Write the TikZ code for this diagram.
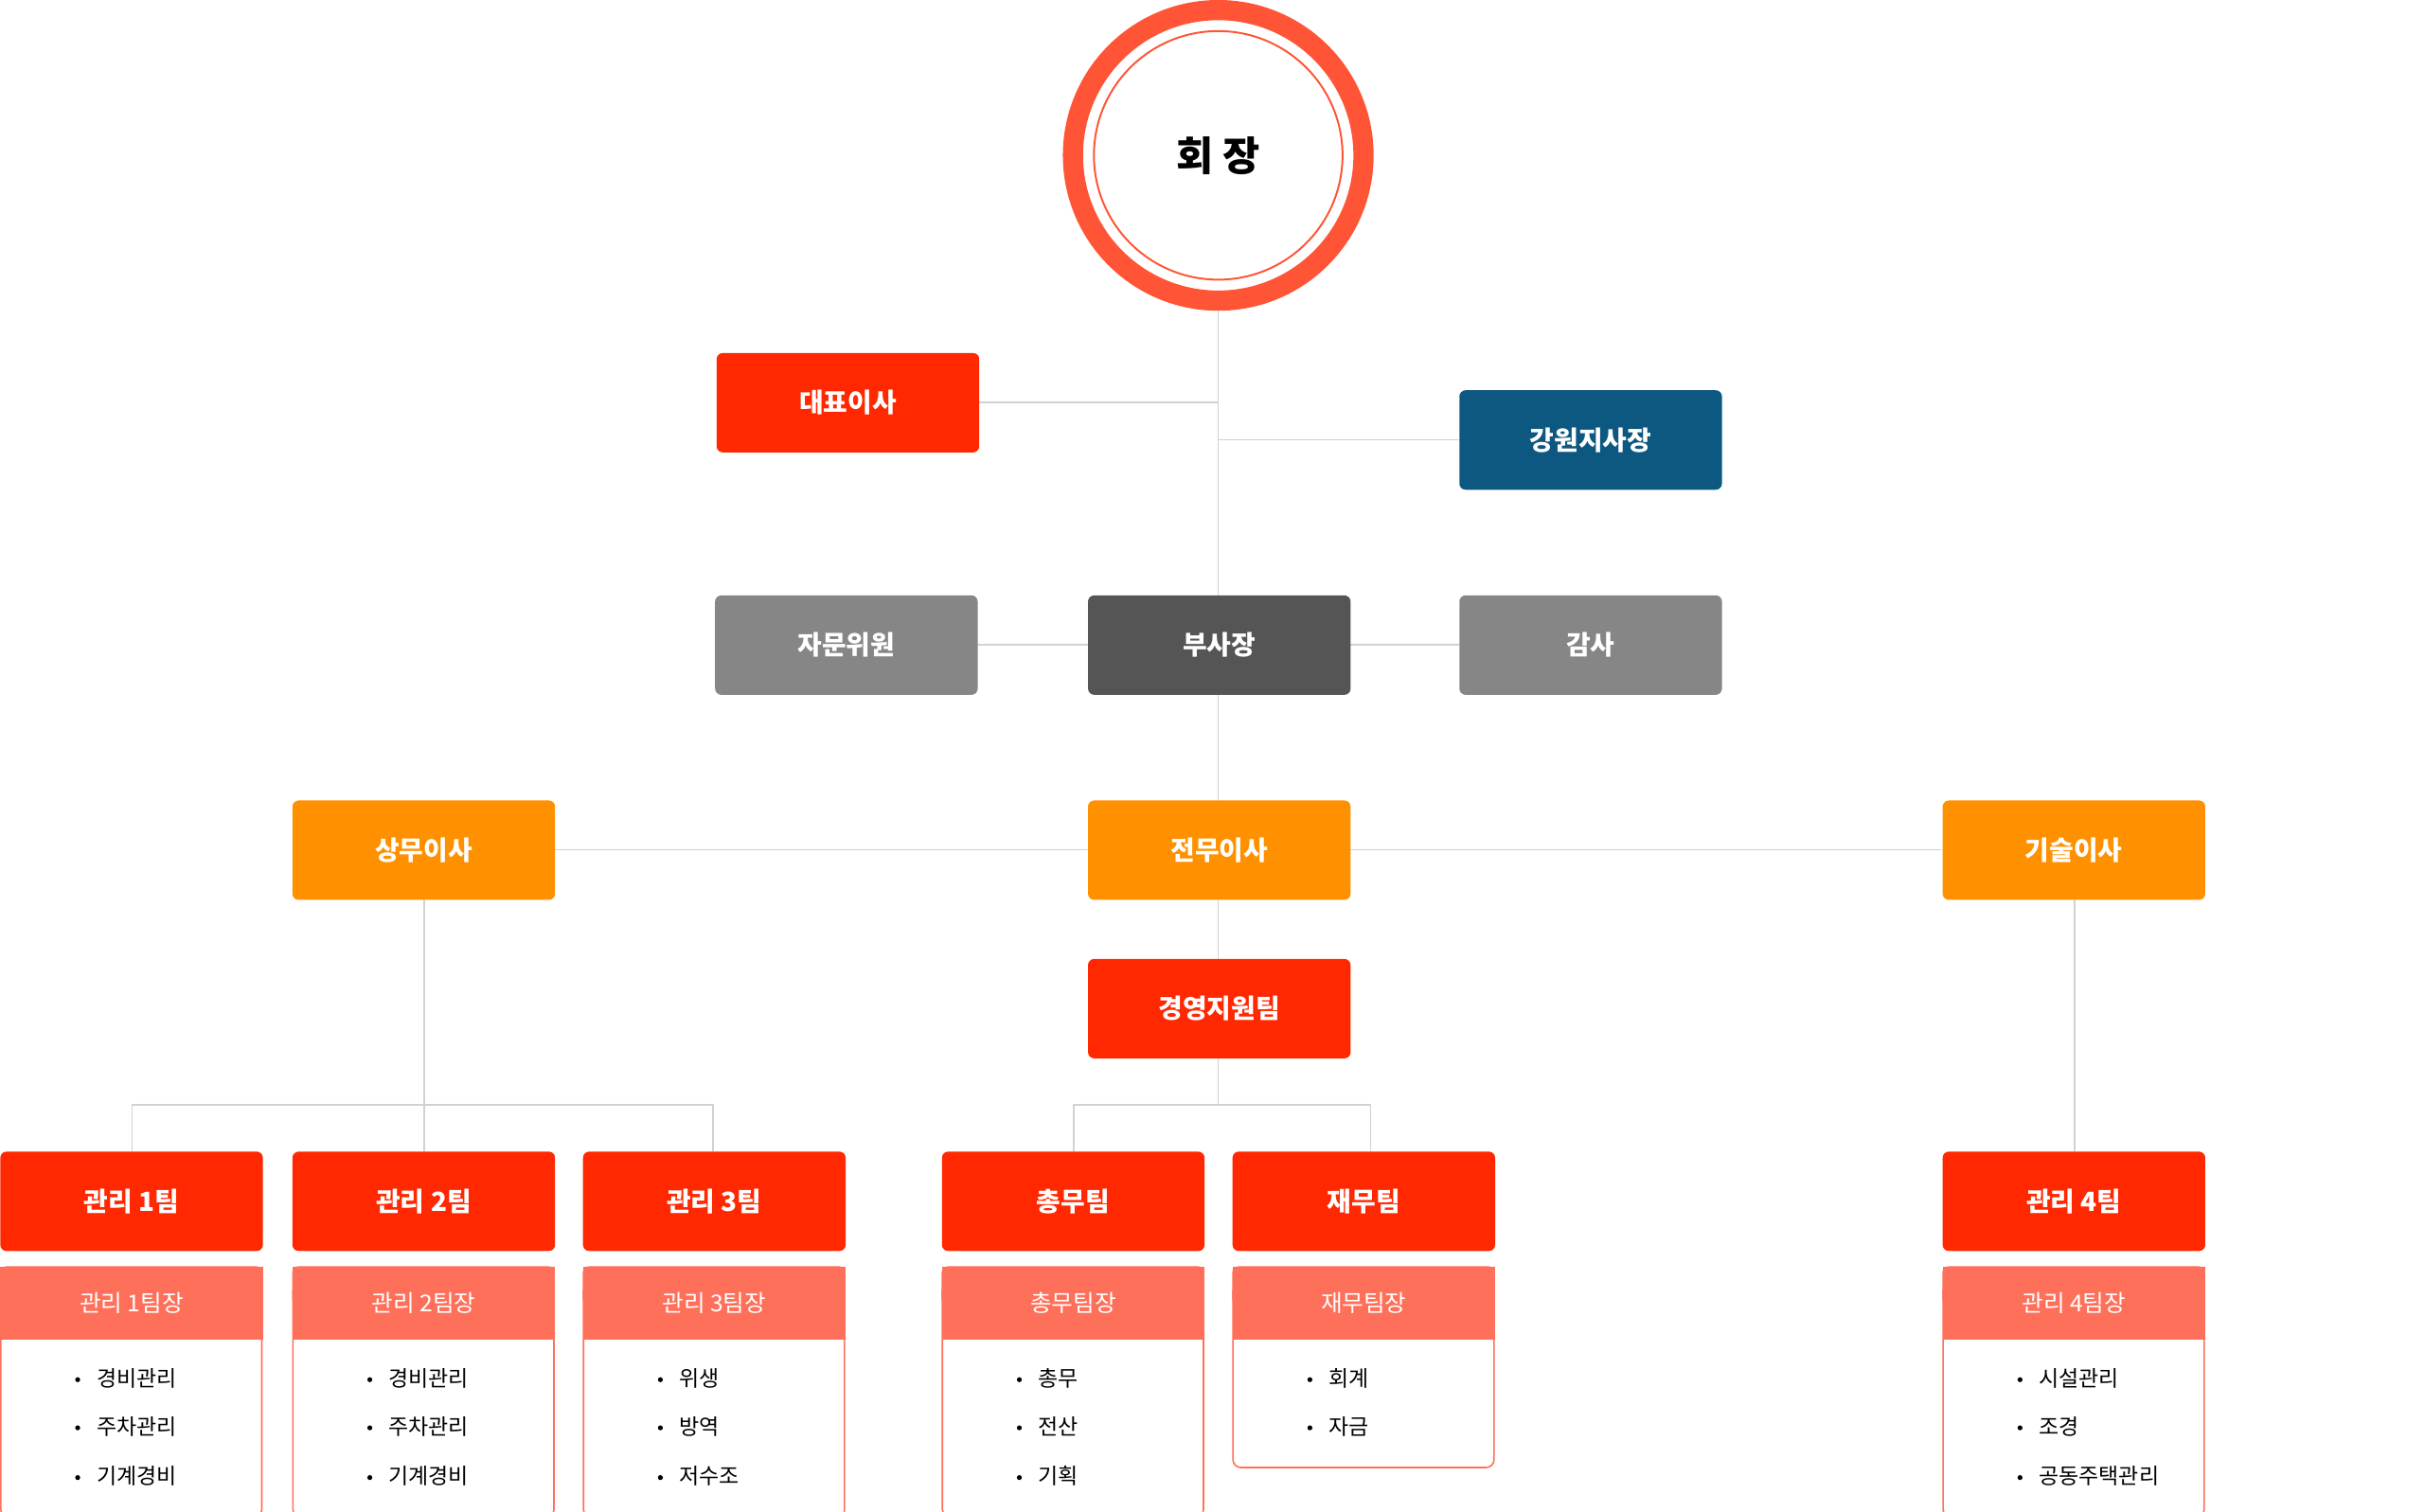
\documentclass[tikz,border=0pt]{standalone}
\usepackage{fontspec}
\setmainfont{Noto Sans CJK KR}
\newfontfamily\kb[FakeBold=0]{Noto Sans CJK KR Bold}
\definecolor{cred}{HTML}{FF2800}
\definecolor{cring}{HTML}{FF5536}
\definecolor{cblue}{HTML}{0D5880}
\definecolor{cgray}{HTML}{868686}
\definecolor{cdark}{HTML}{555555}
\definecolor{corange}{HTML}{FF9100}
\definecolor{csal}{HTML}{FF705A}
\definecolor{cline}{HTML}{D2D2D2}
\begin{document}
\begin{tikzpicture}[x=1pt,y=-1pt,
 box/.style={minimum width=169pt,minimum height=64pt,rounded corners=4pt,text=white,font=\bfseries\fontsize{17}{20}\selectfont,inner sep=0pt,anchor=north west},
 ln/.style={draw=cline,line width=1pt},
 hd/.style={fill=csal,minimum width=169pt,minimum height=47pt,anchor=north west,text=white,font=\fontsize{15}{18}\selectfont,inner sep=0pt},
 itm/.style={anchor=west,font=\fontsize{14}{17}\selectfont,inner sep=0pt}]
\useasboundingbox (0,0) rectangle (1560,973);
% lines
\draw[ln] (784,200) -- (784,617);
\draw[ln] (630,259) -- (784,259);
\draw[ln] (784,283) -- (939,283);
\draw[ln] (629,415) -- (939,415);
\draw[ln] (357,547) -- (1250,547);
\draw[ln] (784,681) -- (784,711);
\draw[ln] (691,741) -- (691,711) -- (882,711) -- (882,741);
\draw[ln] (273,579) -- (273,741);
\draw[ln] (85,741) -- (85,711) -- (459,711) -- (459,741);
\draw[ln] (1335,579) -- (1335,741);
% circle
\draw[cring,line width=13pt] (784,100) circle (93.5);
\draw[cring,line width=1.2pt] (784,100) circle (80);
\node[font=\bfseries\fontsize{26}{30}\selectfont] (ceo) at (784,100) {회 장};
% boxes
\node[box,fill=cred] (dp) at (461,227) {대표이사};
\node[box,fill=cblue] (gw) at (939,251) {강원지사장};
\node[box,fill=cgray] (ja) at (460,383) {자문위원};
\node[box,fill=cdark] (bs) at (700,383) {부사장};
\node[box,fill=cgray] (gs) at (939,383) {감사};
\node[box,fill=corange] (sm) at (188,515) {상무이사};
\node[box,fill=corange] (jm) at (700,515) {전무이사};
\node[box,fill=corange] (gi) at (1250,515) {기술이사};
\node[box,fill=cred] (gy) at (700,617) {경영지원팀};
% teams
\foreach \x/\t/\h/\n/\a/\b/\c in {0/관리 1팀/관리 1팀장/3/경비관리/주차관리/기계경비,
 188/관리 2팀/관리 2팀장/3/경비관리/주차관리/기계경비,
 375/관리 3팀/관리 3팀장/3/위생/방역/저수조,
 606/총무팀/총무팀장/3/총무/전산/기획,
 793/재무팀/재무팀장/2/회계/자금/,
 1250/관리 4팀/관리 4팀장/3/시설관리/조경/공동주택관리}{
 \node[box,fill=cred] (t\x) at (\x,741) {\t};
 \ifnum\n=3
  \draw[csal,line width=1pt,rounded corners=5pt] (\x+0.5,830) -- (\x+0.5,976.5) -- (\x+168.5,976.5) -- (\x+168.5,830);
 \else
  \draw[csal,line width=1pt,rounded corners=5pt] (\x+0.5,830) -- (\x+0.5,944.5) -- (\x+168.5,944.5) -- (\x+168.5,830);
 \fi
 \fill[csal,rounded corners=4pt] (\x,815) rectangle (\x+169,840);
 \node[hd] (h\x) at (\x,815) {\h};
 \fill (\x+50,888) circle (1.6);
 \node[itm] (a\x) at (\x+62,887) {\a};
 \fill (\x+50,919) circle (1.6);
 \node[itm] (b\x) at (\x+62,918) {\b};
 \ifnum\n=3
 \fill (\x+50,951) circle (1.6);
 \node[itm] (c\x) at (\x+62,950) {\c};
 \fi
}
\end{tikzpicture}
\end{document}
